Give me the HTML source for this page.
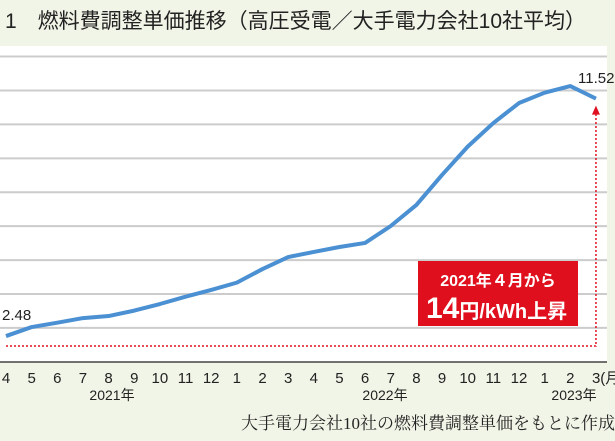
<!DOCTYPE html>
<html><head><meta charset="utf-8"><style>
body{margin:0;width:615px;height:441px;background:#f1f5e7;overflow:hidden;font-family:"Liberation Sans","Noto Sans CJK JP",sans-serif}
#t{position:absolute;left:5px;top:5px;font-size:21px;color:#222;white-space:nowrap}
svg{position:absolute;left:0;top:0}
</style></head><body>
<div id="t">1　燃料費調整単価推移（高圧受電／大手電力会社10社平均）</div>
<svg width="615" height="441">
<rect x="0" y="46" width="607" height="316" fill="#fff"/>
<g id="grid"></g>
<line x1="0" y1="362" x2="607" y2="362" stroke="#444" stroke-width="1.5"/>
<g id="xl"></g>
<polyline id="ln" fill="none" stroke="#4a90d2" stroke-width="4" stroke-linejoin="round"/>
<polyline id="arr" fill="none" stroke="#e01020" stroke-width="1.5" stroke-dasharray="2,2"/>
<polygon id="ah" fill="#e01020"/>
<text x="2" y="320" font-size="15" fill="#222">2.48</text>
<text x="578" y="83" font-size="15" fill="#222">11.52</text>
<rect x="418" y="261" width="160" height="65" fill="#e00f1d"/>
<text x="498" y="286" font-size="16" font-weight="bold" fill="#fff" text-anchor="middle">2021年４月から</text>
<text x="426" y="318" font-size="20" font-weight="bold" fill="#fff"><tspan font-size="30">14</tspan>円/kWh上昇</text>
<text x="112" y="400" font-size="14" fill="#222" text-anchor="middle">2021年</text>
<text x="385" y="400" font-size="14" fill="#222" text-anchor="middle">2022年</text>
<text x="574" y="400" font-size="14" fill="#222" text-anchor="middle">2023年</text>
<text x="615" y="429" font-size="17" fill="#222" text-anchor="end" font-family="Liberation Serif,Noto Serif CJK SC,serif">大手電力会社10社の燃料費調整単価をもとに作成</text>
</svg>
<script>
const months=["4","5","6","7","8","9","10","11","12","1","2","3","4","5","6","7","8","9","10","11","12","1","2","3(月)"];
const values=[-2.48,-1.95,-1.69,-1.42,-1.30,-0.98,-0.59,-0.16,0.24,0.67,1.47,2.18,2.48,2.77,3.01,4.01,5.25,7.02,8.69,10.08,11.26,11.87,12.26,11.52];
const gridTicks=[-2,0,2,4,6,8,10,12,14];
const X=i=>6+i*25.65, Y=v=>294-v*16.96;
const NS="http://www.w3.org/2000/svg";
const g=document.getElementById('grid');
gridTicks.forEach(t=>{const l=document.createElementNS(NS,'line');
l.setAttribute('x1',0);l.setAttribute('x2',607);l.setAttribute('y1',Y(t));l.setAttribute('y2',Y(t));
l.setAttribute('stroke','#ccc');l.setAttribute('stroke-width','2');


g.appendChild(l);});
const xl=document.getElementById('xl');
months.forEach((m,i)=>{const t=document.createElementNS(NS,'text');
t.setAttribute('x',m.length>3?X(i)-4:X(i));t.setAttribute('y',383);t.setAttribute('font-size','15');t.setAttribute('fill','#222');
t.setAttribute('text-anchor',m.length>3?'start':'middle');t.textContent=m;


xl.appendChild(t);});
document.getElementById('ln').setAttribute('points',values.map((v,i)=>X(i)+','+Y(v)).join(' '));
const n=values.length-1, x0=X(0), xe=X(n), yb=Y(values[0])+10;
document.getElementById('arr').setAttribute('points',`${x0},${yb} ${xe},${yb} ${xe},${Y(values[n])+14}`);
document.getElementById('ah').setAttribute('points',`${xe-4},${Y(values[n])+16} ${xe+4},${Y(values[n])+16} ${xe},${Y(values[n])+7}`);
</script>
</body></html>
